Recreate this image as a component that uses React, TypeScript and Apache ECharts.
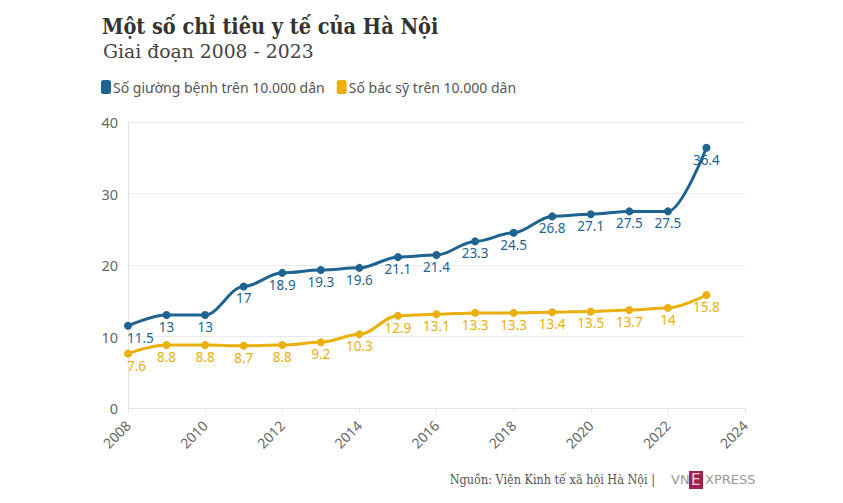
import React, { useEffect, useRef } from "react";
import * as echarts from "echarts";

const years = [2008, 2009, 2010, 2011, 2012, 2013, 2014, 2015, 2016, 2017, 2018, 2019, 2020, 2021, 2022, 2023];
const beds = [11.5, 13, 13, 17, 18.9, 19.3, 19.6, 21.1, 21.4, 23.3, 24.5, 26.8, 27.1, 27.5, 27.5, 36.4];
const doctors = [7.6, 8.8, 8.8, 8.7, 8.8, 9.2, 10.3, 12.9, 13.1, 13.3, 13.3, 13.4, 13.5, 13.7, 14, 15.8];
const seriesNames = ["Số giường bệnh trên 10.000 dân", "Số bác sỹ trên 10.000 dân"];
const colors = ["#1f6391", "#e9b00f"];

const title = "Một số chỉ tiêu y tế của Hà Nội";
const subtitle = "Giai đoạn 2008 - 2023";
const source = "Nguồn: Viện Kinh tế xã hội Hà Nội |";

export default function App() {
  const ref = useRef<HTMLDivElement>(null);
  useEffect(() => {
    const chart = echarts.init(ref.current!, null, { renderer: "svg" });
    const sans = "'Noto Sans', sans-serif";
    const mk = (name: string, data: number[], color: string) => ({
      name,
      type: "line",
      data: years.map((y, i) =>
        i === 0
          ? { value: [y, data[i]], label: { align: "left", offset: [-1, 0] } }
          : { value: [y, data[i]] }
      ),
      smooth: 0.35,
      smoothMonotone: "x",
      symbol: "circle",
      symbolSize: 8,
      lineStyle: { color, width: 3 },
      itemStyle: { color },
      label: {
        show: true,
        position: "bottom",
        distance: 1,
        color,
        fontFamily: sans,
        fontSize: 13.5,
        formatter: (p: any) => String(p.value[1]),
      },
    });
    chart.setOption({
      animation: false,
      backgroundColor: "#fff",
      color: colors,
      title: [
        {
          text: title,
          left: 97,
          top: 10,
          textStyle: { fontFamily: "'DejaVu Serif Condensed', 'DejaVu Serif', serif", fontWeight: "bold", fontSize: 21.5, color: "#333" },
        },
        {
          text: subtitle,
          left: 98,
          top: 37,
          textStyle: { fontFamily: "'DejaVu Serif', serif", fontWeight: "normal", fontSize: 18.8, color: "#444" },
        },
      ],
      legend: {
        left: 96,
        top: 75,
        itemWidth: 10,
        itemHeight: 14,
        itemGap: 12,
        icon: "roundRect",
        textStyle: { fontFamily: sans, fontSize: 14, color: "#555", padding: [0, 0, 0, -3] },
        data: seriesNames,
      },
      grid: { left: 128, right: 98, top: 122, bottom: 95 },
      xAxis: {
        type: "value",
        min: 2008,
        max: 2024,
        interval: 2,
        axisLine: { show: true, lineStyle: { color: "#e4e4e4" } },
        axisTick: { show: true, length: 5, lineStyle: { color: "#e4e4e4" } },
        splitLine: { show: false },
        axisLabel: {
          rotate: 45,
          color: "#666",
          fontFamily: sans,
          fontSize: 14,
          margin: 15,
          formatter: (v: number) => String(v),
        },
      },
      yAxis: {
        type: "value",
        min: 0,
        max: 40,
        interval: 10,
        axisLine: { show: true, lineStyle: { color: "#e4e4e4" } },
        axisTick: { show: false },
        splitLine: { show: true, lineStyle: { color: "#ebebeb" } },
        axisLabel: { color: "#666", fontFamily: sans, fontSize: 14.5, margin: 10 },
      },
      series: [mk(seriesNames[0], beds, colors[0]), mk(seriesNames[1], doctors, colors[1])],
      graphic: [
        {
          type: "text",
          right: 188,
          top: 473,
          style: { text: source, font: "12.5px 'DejaVu Serif Condensed', 'DejaVu Serif', serif", fill: "#555" },
        },
        {
          type: "text",
          left: 671,
          top: 473,
          style: { text: "VN", font: "13px 'DejaVu Sans', sans-serif", fill: "#999" },
        },
        {
          type: "rect",
          shape: { x: 689, y: 471, width: 14, height: 18 },
          style: { fill: "#a3224a" },
        },
        {
          type: "text",
          left: 691,
          top: 472,
          style: { text: "E", font: "15px 'DejaVu Sans', sans-serif", fill: "#f4d6de" },
        },
        {
          type: "text",
          left: 705,
          top: 473,
          style: { text: "XPRESS", font: "13px 'DejaVu Sans', sans-serif", fill: "#999" },
        },
      ],
    });
    return () => chart.dispose();
  }, []);
  return <div ref={ref} style={{ width: 843, height: 503, margin: -8 }} />;
}
